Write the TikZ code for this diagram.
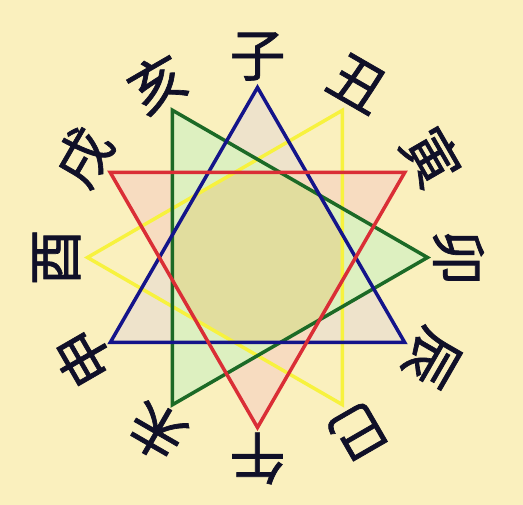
\documentclass[tikz,border=0pt]{standalone}
\usepackage{fontspec}
\newfontfamily\cjk{Noto Sans CJK SC}[FakeBold=1.2]
\definecolor{bg}{HTML}{FAF0BE}
\definecolor{bfill}{HTML}{EEE3CB}
\definecolor{rfill}{HTML}{F7DCC0}
\definecolor{gfill}{HTML}{DDF0C0}
\definecolor{cfill}{HTML}{E1DD9E}
\definecolor{bline}{HTML}{14148A}
\definecolor{rline}{HTML}{DA2E36}
\definecolor{gline}{HTML}{1C6A26}
\definecolor{yline}{HTML}{F7F23E}
\definecolor{ink}{HTML}{101028}
\tikzset{
  lbl/.style={font=\cjk\fontsize{56}{56}\selectfont, text=ink, inner sep=0pt},
  tri/.style={line width=3.5pt, line join=miter},
}
\begin{document}
\begin{tikzpicture}[x=1pt,y=1pt]
\fill[bg] (-257.5,-247.5) rectangle (265.5,257.5);
\useasboundingbox (-257.5,-247.5) rectangle (265.5,257.5);
\foreach \k/\c in {0/子,1/丑,2/寅,3/卯,4/辰,5/巳,6/午,7/未,8/申,9/酉,10/戌,11/亥}{
  \coordinate (v\k) at ({90-30*\k}:170);
  \node[lbl, rotate={-30*\k}] (t\k) at ({90-30*\k}:201) {\c};
}
% fills
\fill[bfill] (v0) -- (v4) -- (v8) -- cycle;
\fill[rfill] (v2) -- (v6) -- (v10) -- cycle;
\fill[gfill] (v3) -- (v7) -- (v11) -- cycle;
\begin{scope}
  \clip (v0) -- (v4) -- (v8) -- cycle;
  \clip (v2) -- (v6) -- (v10) -- cycle;
  \clip (v3) -- (v7) -- (v11) -- cycle;
  \clip (v1) -- (v5) -- (v9) -- cycle;
  \fill[cfill] (-200,-200) rectangle (200,200);
\end{scope}
% outlines
\draw[tri, yline] (v1) -- (v5) -- (v9) -- cycle;
\draw[tri, gline] (v3) -- (v7) -- (v11) -- cycle;
\draw[tri, bline] (v0) -- (v4) -- (v8) -- cycle;
\draw[tri, rline] (v2) -- (v6) -- (v10) -- cycle;
\end{tikzpicture}
\end{document}
